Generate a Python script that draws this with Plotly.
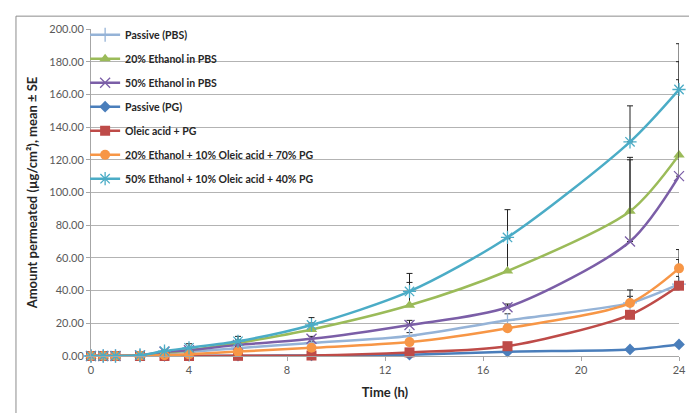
import plotly.graph_objects as go

time_h = [0, 0.5, 1, 2, 3, 4, 6, 9, 13, 17, 22, 24]

series_names = [
    "Passive (PBS)",
    "20% Ethanol in PBS",
    "50% Ethanol in PBS",
    "Passive (PG)",
    "Oleic acid + PG",
    "20% Ethanol + 10% Oleic acid + 70% PG",
    "50% Ethanol + 10% Oleic acid + 40% PG",
]

passive_pbs = [0, 0, 0, 0.3, 1.5, 2.5, 4.8, 8.0, 12.3, 21.8, 32.5, 44.0]
eth20_pbs = [0, 0, 0, 0.4, 2.0, 3.5, 8.0, 16.2, 31.0, 52.0, 88.5, 123.0]
eth50_pbs = [0, 0, 0, 0.4, 2.6, 3.5, 6.8, 10.5, 19.0, 29.8, 70.0, 110.0]
passive_pg = [0, 0, 0, 0, 0, 0.1, 0.2, 0.3, 0.8, 2.6, 4.0, 7.1]
oa_pg = [0, 0, 0, 0, 0, 0, 0.1, 0.3, 2.2, 6.0, 25.2, 43.0]
eth20_oa10_pg70 = [0, 0, 0, 0.2, 0.5, 1.0, 2.7, 5.0, 8.5, 17.0, 32.4, 53.6]
eth50_oa10_pg40 = [0, 0, 0, 0.5, 3.0, 5.0, 9.0, 19.0, 39.5, 72.5, 131.0, 163.0]

err_passive_pbs = [0, 0, 0, 0, 0, 0.5, 1.0, 1.0, 2.0, 4.0, 4.0, 15.0]
err_eth20_pbs = [0, 0, 0, 0, 0.5, 1.0, 2.0, 4.0, 14.0, 20.0, 33.0, 57.0]
err_eth50_pbs = [0, 0, 0, 0, 0.5, 0.5, 1.0, 1.5, 2.8, 2.0, 50.0, 59.0]
err_passive_pg = [0, 0, 0, 0, 0, 0, 0, 0.2, 0.3, 0.3, 0.5, 1.0]
err_oa_pg = [0, 0, 0, 0, 0, 0, 0, 0.2, 0.5, 1.0, 2.0, 5.7]
err_eth20_oa10_pg70 = [0, 0, 0, 0, 0, 0.3, 0.8, 1.0, 1.5, 2.0, 8.0, 11.5]
err_eth50_oa10_pg40 = [0, 0, 0, 0, 0.5, 2.5, 3.0, 4.5, 11.0, 17.0, 22.0, 28.0]

values = [passive_pbs, eth20_pbs, eth50_pbs, passive_pg, oa_pg, eth20_oa10_pg70, eth50_oa10_pg40]
errors = [err_passive_pbs, err_eth20_pbs, err_eth50_pbs, err_passive_pg, err_oa_pg,
          err_eth20_oa10_pg70, err_eth50_oa10_pg40]
colors = ["#95B3D7", "#9BBB59", "#7B5EA7", "#4A7EBB", "#BE4B48", "#F79646", "#4BACC6"]
symbols = ["cross-thin", "triangle-up", "x-thin", "diamond", "square", "circle", "asterisk"]
sizes = [10, 10, 10, 9, 10, 10, 11]

fig = go.Figure()
for i, name in enumerate(series_names):
    thin = symbols[i] in ("cross-thin", "x-thin", "asterisk")
    fig.add_trace(go.Scatter(
        x=time_h, y=values[i], name=name, mode="lines+markers",
        legendgroup=f"g{i}",
        line=dict(color=colors[i], width=2.5, shape="spline", smoothing=0.8),
        marker=dict(symbol=symbols[i], size=sizes[i], color=colors[i],
                    line=dict(color=colors[i], width=1.3 if thin else 0)),
        error_y=dict(type="data", symmetric=False, array=errors[i],
                     arrayminus=[0] * len(errors[i]),
                     color="#222222", thickness=1, width=3),
        cliponaxis=False,
    ))

font_family = "Lato, 'Open Sans', sans-serif"

fig.update_layout(
    width=697, height=413,
    margin=dict(l=83, r=26, t=17, b=65),
    paper_bgcolor="white", plot_bgcolor="white",
    font=dict(family=font_family, size=11, color="#404040"),
    showlegend=True,
    legend=dict(
        x=-0.01, y=1.027, xanchor="left", yanchor="top",
        bgcolor="rgba(0,0,0,0)", borderwidth=0,
        font=dict(family=font_family, size=10.5, color="#262626", weight="bold"),
        traceorder="grouped", tracegroupgap=5,
        itemwidth=30,
    ),
    xaxis=dict(
        range=[0, 24], tick0=0, dtick=4, showgrid=False,
        showline=True, linecolor="#A6A6A6", linewidth=1,
        ticks="outside", ticklen=4, tickcolor="#A6A6A6",
        tickfont=dict(size=11, color="#595959"),
        title=dict(text="Time (h)", font=dict(size=13, color="#262626", weight="bold"),
                   standoff=12),
        zeroline=False,
    ),
    yaxis=dict(
        range=[0, 200], tick0=0, dtick=20, tickformat=".2f",
        showgrid=True, gridcolor="#B3B3B3", gridwidth=1,
        showline=True, linecolor="#A6A6A6", linewidth=1,
        ticks="outside", ticklen=4, tickcolor="#A6A6A6",
        tickfont=dict(size=11, color="#595959"),
        title=dict(text="Amount permeated (µg/cm²), mean ± SE",
                   font=dict(size=13, color="#262626", weight="bold"), standoff=8),
        zeroline=False,
    ),
    shapes=[
        dict(type="rect", xref="paper", yref="paper",
             x0=-0.1276, x1=1.0323, y0=-0.1813, y1=1.0393,
             line=dict(color="#8C8C8C", width=1), layer="below"),
        dict(type="rect", xref="paper", yref="paper",
             x0=0.003, x1=0.395, y0=0.417, y1=0.992,
             fillcolor="white", line=dict(width=0), layer="between"),
    ],
)

fig.write_html("out.html")
